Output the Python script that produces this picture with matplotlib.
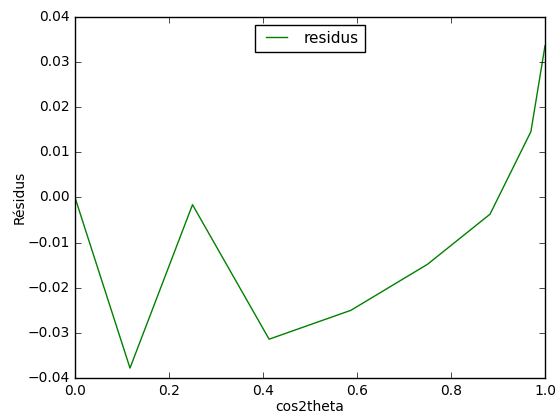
import numpy as np
import matplotlib
matplotlib.use("Agg")
import matplotlib.pyplot as plt

plt.style.use("classic")

# cos^2(theta) et residus du fit
cos2theta = [0.0, 0.117, 0.25, 0.413, 0.587, 0.75, 0.883, 0.970, 1.0]
residus = [0.0, -0.0378, -0.0016, -0.0314, -0.0250, -0.0148, -0.0037, 0.0146, 0.0336]

fig = plt.figure(figsize=(5.55, 4.18), dpi=100)
ax = fig.add_axes([75/555, 1 - 378/418, 470/555, 361/418])
ax.plot(cos2theta, residus, color="g", label="residus")
ax.set_xlim(0, 1)
ax.set_ylim(-0.04, 0.04)
ax.set_xlabel("cos2theta", fontsize=10, labelpad=2)
ax.set_ylabel("Résidus", fontsize=10, labelpad=0)
ax.tick_params(labelsize=10)
ax.legend(loc="upper center", fontsize=11)
fig.savefig("out.png", dpi=100)
